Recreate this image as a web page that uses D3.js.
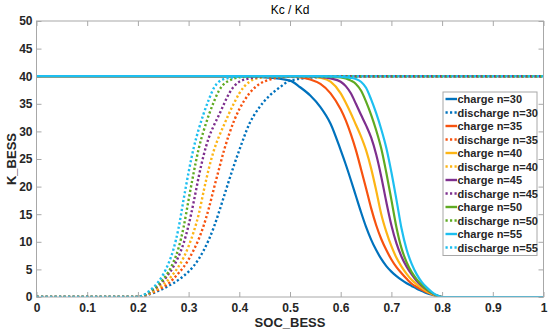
<!DOCTYPE html>
<html><head><meta charset="utf-8">
<script src="https://cdn.jsdelivr.net/npm/d3@7"></script>
<style>body{margin:0;background:#fff}svg{display:block}</style>
</head><body>
<script>
// ---- data ----
const socCharge = [0, 0.40, 0.45, 0.50, 0.52, 0.54, 0.56, 0.58, 0.60, 0.61, 0.62, 0.63, 0.64, 0.65, 0.66, 0.67, 0.68, 0.69, 0.70, 0.71, 0.72, 0.73, 0.74, 0.75, 0.76, 0.77, 0.78, 0.79, 0.80, 1.0];
const socDischarge = [0, 0.20, 0.21, 0.22, 0.23, 0.24, 0.25, 0.26, 0.27, 0.28, 0.29, 0.30, 0.31, 0.32, 0.33, 0.34, 0.35, 0.36, 0.37, 0.38, 0.39, 0.40, 0.42, 0.44, 0.46, 0.48, 0.50, 0.55, 0.60, 1.0];
const nValues = [30, 35, 40, 45, 50, 55];
const charge30 = [40, 39.95, 39.8, 39.2, 38.0, 36.5, 34.4, 31.4, 26.6, 24.0, 21.2, 18.3, 15.4, 12.7, 10.4, 8.5, 6.9, 5.6, 4.6, 3.8, 3.1, 2.5, 2.0, 1.5, 1.1, 0.7, 0.4, 0.15, 0, 0];
const charge35 = [40, 40, 39.97, 39.9, 39.8, 39.4, 38.6, 36.9, 34.0, 32.0, 29.5, 26.6, 23.2, 19.7, 16.1, 13.0, 10.5, 8.5, 6.8, 5.4, 4.3, 3.3, 2.4, 1.8, 1.3, 0.85, 0.5, 0.2, 0, 0];
const charge40 = [40, 40, 40, 39.98, 39.95, 39.9, 39.7, 39.0, 36.9, 35.2, 33.3, 31.2, 29.1, 26.6, 23.3, 19.3, 15.0, 11.8, 9.2, 7.1, 5.5, 4.2, 3.1, 2.3, 1.6, 1.0, 0.55, 0.2, 0, 0];
const charge45 = [40, 40, 40, 40, 40, 39.95, 39.85, 39.6, 39.0, 38.2, 36.9, 35.0, 33.0, 31.1, 28.9, 25.8, 21.8, 17.2, 13.0, 9.7, 7.3, 5.5, 4.1, 2.9, 2.0, 1.3, 0.7, 0.25, 0, 0];
const charge50 = [40, 40, 40, 40, 40, 40, 39.95, 39.9, 39.8, 39.6, 39.2, 38.6, 37.4, 35.4, 33.0, 30.2, 26.9, 22.5, 17.6, 12.6, 8.8, 6.3, 4.5, 3.2, 2.2, 1.4, 0.75, 0.25, 0, 0];
const charge55 = [40, 40, 40, 40, 40, 40, 40, 39.97, 39.9, 39.8, 39.7, 39.5, 39.0, 37.9, 35.8, 33.3, 30.4, 27.0, 22.6, 17.6, 12.4, 8.6, 6.0, 4.1, 2.7, 1.7, 0.9, 0.3, 0, 0];
const discharge30 = [0, 0, 0.15, 0.4, 0.7, 1.1, 1.5, 2.0, 2.5, 3.1, 3.8, 4.6, 5.6, 6.9, 8.5, 10.4, 12.7, 15.4, 18.3, 21.2, 24.0, 26.6, 31.4, 34.4, 36.5, 38.0, 39.2, 39.8, 39.95, 40];
const discharge35 = [0, 0, 0.2, 0.5, 0.85, 1.3, 1.8, 2.4, 3.3, 4.3, 5.4, 6.8, 8.5, 10.5, 13.0, 16.1, 19.7, 23.2, 26.6, 29.5, 32.0, 34.0, 36.9, 38.6, 39.4, 39.8, 39.9, 39.97, 40, 40];
const discharge40 = [0, 0, 0.2, 0.55, 1.0, 1.6, 2.3, 3.1, 4.2, 5.5, 7.1, 9.2, 11.8, 15.0, 19.3, 23.3, 26.6, 29.1, 31.2, 33.3, 35.2, 36.9, 39.0, 39.7, 39.9, 39.95, 39.98, 40, 40, 40];
const discharge45 = [0, 0, 0.25, 0.7, 1.3, 2.0, 2.9, 4.1, 5.5, 7.3, 9.7, 13.0, 17.2, 21.8, 25.8, 28.9, 31.1, 33.0, 35.0, 36.9, 38.2, 39.0, 39.6, 39.85, 39.95, 40, 40, 40, 40, 40];
const discharge50 = [0, 0, 0.25, 0.75, 1.4, 2.2, 3.2, 4.5, 6.3, 8.8, 12.6, 17.6, 22.5, 26.9, 30.2, 33.0, 35.4, 37.4, 38.6, 39.2, 39.6, 39.8, 39.9, 39.95, 40, 40, 40, 40, 40, 40];
const discharge55 = [0, 0, 0.3, 0.9, 1.7, 2.7, 4.1, 6.0, 8.6, 12.4, 17.6, 22.6, 27.0, 30.4, 33.3, 35.8, 37.9, 39.0, 39.5, 39.7, 39.8, 39.9, 39.97, 40, 40, 40, 40, 40, 40, 40];
const xTicks = [0, 0.1, 0.2, 0.3, 0.4, 0.5, 0.6, 0.7, 0.8, 0.9, 1];
const yTicks = [0, 5, 10, 15, 20, 25, 30, 35, 40, 45, 50];
const colors = ["#0072BD", "#F7520F", "#FDB515", "#7E2F8E", "#5FAA22", "#1DBFF0"];

const chargeSets = [charge30, charge35, charge40, charge45, charge50, charge55];
const dischargeSets = [discharge30, discharge35, discharge40, discharge45, discharge50, discharge55];

// ---- layout ----
const W = 550, H = 336;
const m = {left: 36.5, right: 6.5, top: 21, bottom: 39};
const FONT = "'Liberation Sans', Arial, sans-serif";
const svg = d3.select("body").append("svg").attr("width", W).attr("height", H);
const x = d3.scaleLinear().domain([0, 1]).range([m.left, W - m.right]);
const y = d3.scaleLinear().domain([0, 50]).range([H - m.bottom, m.top]);

const axisColor = "#a8a8a8", textColor = "#262626";

svg.append("clipPath").attr("id", "clip").append("rect")
  .attr("x", m.left).attr("y", m.top).attr("width", x(1) - x(0)).attr("height", y(0) - y(50));

function styleAxis(g, labels) {
  g.select(".domain").remove();
  g.selectAll(".tick line").attr("stroke", axisColor);
  g.selectAll(".tick text").attr("fill", textColor).style("font-family", FONT)
    .style("font-size", "12px").style("font-weight", "bold");
  if (!labels) g.selectAll(".tick text").remove();
}
const xFmt = d => d === 0 ? "0" : d === 1 ? "1" : d3.format(".1f")(d);
svg.append("g").attr("transform", `translate(0,${y(0)})`)
  .call(d3.axisBottom(x).tickValues(xTicks).tickFormat(xFmt).tickSizeInner(-5).tickPadding(6))
  .call(g => styleAxis(g, true));
svg.append("g").attr("transform", `translate(0,${y(50)})`)
  .call(d3.axisTop(x).tickValues(xTicks).tickSizeInner(-5))
  .call(g => styleAxis(g, false));
svg.append("g").attr("transform", `translate(${x(0)},0)`)
  .call(d3.axisLeft(y).tickValues(yTicks).tickSizeInner(-5).tickPadding(4))
  .call(g => styleAxis(g, true));
svg.append("g").attr("transform", `translate(${x(1)},0)`)
  .call(d3.axisRight(y).tickValues(yTicks).tickSizeInner(-5))
  .call(g => styleAxis(g, false));

// lines
const line = d3.line().curve(d3.curveMonotoneX);
const plot = svg.append("g").attr("clip-path", "url(#clip)");
nValues.forEach((n, i) => {
  plot.append("path")
    .attr("d", line(socCharge.map((s, k) => [x(s), y(chargeSets[i][k])])))
    .attr("fill", "none").attr("stroke", colors[i]).attr("stroke-width", 2.2);
  plot.append("path")
    .attr("d", line(socDischarge.map((s, k) => [x(s), y(dischargeSets[i][k])])))
    .attr("fill", "none").attr("stroke", colors[i]).attr("stroke-width", 2.4)
    .attr("stroke-dasharray", "2.2,2.3");
});

// box
svg.append("rect").attr("x", x(0)).attr("y", y(50)).attr("width", x(1) - x(0)).attr("height", y(0) - y(50))
  .attr("fill", "none").attr("stroke", axisColor).attr("stroke-width", 1);

// title & labels
svg.append("text").attr("x", (x(0) + x(1)) / 2).attr("y", 14).attr("text-anchor", "middle")
  .attr("fill", "#000").style("font-family", FONT).style("font-size", "12px").text("Kc / Kd");
svg.append("text").attr("x", (x(0) + x(1)) / 2).attr("y", 327).attr("text-anchor", "middle")
  .attr("fill", textColor).style("font-family", FONT).style("font-size", "13px").style("font-weight", "bold").text("SOC_BESS");
svg.append("text").attr("transform", `translate(15.5,${(y(0) + y(50)) / 2}) rotate(-90)`).attr("text-anchor", "middle")
  .attr("fill", textColor).style("font-family", FONT).style("font-size", "13px").style("font-weight", "bold").text("K_BESS");

// legend
const lg = svg.append("g");
const lx = 443, ly = 92, lw = 94, rowH = 13.5;
lg.append("rect").attr("x", lx).attr("y", ly).attr("width", lw).attr("height", rowH * 12 + 1.5)
  .attr("fill", "#fff").attr("stroke", axisColor).attr("stroke-width", 1);
nValues.forEach((n, i) => {
  ["charge", "discharge"].forEach((kind, j) => {
    const cy = ly + 7 + (i * 2 + j) * rowH;
    lg.append("line").attr("x1", lx + 2.5).attr("x2", lx + 14).attr("y1", cy).attr("y2", cy)
      .attr("stroke", colors[i]).attr("stroke-width", 2.4)
      .attr("stroke-dasharray", j === 1 ? "2.2,2.3" : null);
    lg.append("text").attr("x", lx + 14.5).attr("y", cy + 4).attr("fill", textColor)
      .style("font-family", FONT).style("font-size", "11px").style("font-weight", "bold")
      .text(`${kind} n=${n}`);
  });
});
</script>
</body></html>
